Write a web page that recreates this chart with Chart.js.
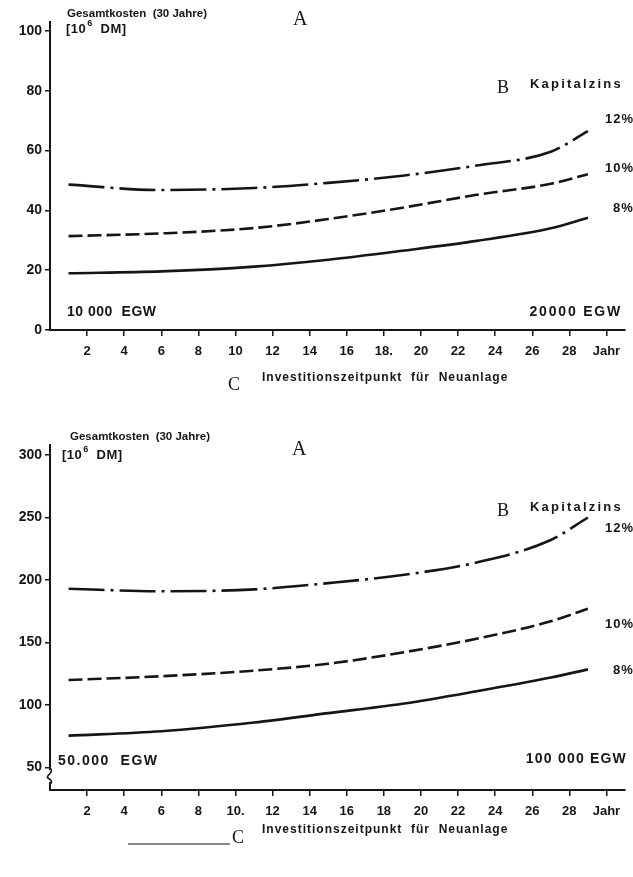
<!DOCTYPE html>
<html>
<head>
<meta charset="utf-8">
<script src="https://cdn.jsdelivr.net/npm/chart.js@4.4.1/dist/chart.umd.min.js"></script>
<style>
  body { margin: 0; background: #fff; width: 633px; height: 877px; overflow: hidden; position: relative; }
  canvas { position: absolute; left: 0; }
</style>
</head>
<body>
<canvas id="topChart" width="633" height="410" style="top:0"></canvas>
<canvas id="bottomChart" width="633" height="467" style="top:410px"></canvas>
<script>
// investment year (x) for every curve point
var years = [1, 6, 11, 15, 19, 23, 27, 29];

// 10 000 - 20 000 EGW, costs in 10^6 DM
var top12 = [48.6, 46.8, 47.5, 49.2, 51.6, 55, 59.6, 66.5];
var top10 = [31.4, 32.3, 34.1, 37.1, 40.9, 45.2, 48.9, 52.1];
var top8 = [19, 19.6, 21.2, 23.5, 26.5, 29.8, 34, 37.5];

// 50 000 - 100 000 EGW
var bot12 = [193, 191, 192.5, 197.5, 204, 214, 232, 250];
var bot10 = [120, 123, 127.5, 133, 142, 153, 167, 177];
var bot8 = [75.5, 79, 86, 93.5, 101, 111, 122, 128.5];

var xTicks = [2, 4, 6, 8, 10, 12, 14, 16, 18, 20, 22, 24, 26, 28, 30];
var xLabels = ["2", "4", "6", "8", "10", "12", "14", "16", "18.", "20", "22", "24", "26", "28", "Jahr"];
var xLabelsBottom = ["2", "4", "6", "8", "10.", "12", "14", "16", "18", "20", "22", "24", "26", "28", "Jahr"];
var topYTicks = [0, 20, 40, 60, 80, 100];
var botYTicks = [50, 100, 150, 200, 250, 300];
var rateLabels = ["12%", "10%", "8%"];

var ink = "#151515";
var sans = "'Liberation Sans', Arial, sans-serif";
var serif = "'Liberation Serif', 'DejaVu Serif', serif";
var bold = "bold 12px " + sans;
var big = "bold 13px " + sans;

function series(ys) {
  return years.map(function (x, i) { return { x: x, y: ys[i] }; });
}

function makeSets(a, b, c) {
  var base = { borderColor: ink, borderWidth: 2.6, pointRadius: 0, fill: false, cubicInterpolationMode: "monotone" };
  return [
    Object.assign({ label: rateLabels[0], data: series(a), borderDash: [36, 6, 3, 6] }, base),
    Object.assign({ label: rateLabels[1], data: series(b), borderDash: [14, 5] }, base),
    Object.assign({ label: rateLabels[2], data: series(c) }, base)
  ];
}

function drawUnit(ctx, x, y) {
  ctx.font = big;
  ctx.textAlign = "left";
  ctx.fillText("[10", x, y);
  var w = ctx.measureText("[10").width;
  ctx.font = "bold 9px " + sans;
  ctx.fillText("6", x + w + 1, y - 5);
  ctx.font = big;
  ctx.fillText("  DM]", x + w + 6, y);
}

var notesPlugin = {
  id: "notes",
  afterDraw: function (chart) {
    var ctx = chart.ctx;
    var cfg = chart.options.plugins.notes;
    ctx.save();
    ctx.fillStyle = ink;
    ctx.textBaseline = "middle";
    cfg.items.forEach(function (n) {
      ctx.letterSpacing = (n.sp || 0) + "px";
      if (n.unit) { drawUnit(ctx, n.x, n.y); return; }
      ctx.font = n.font || bold;
      ctx.textAlign = n.align || "left";
      ctx.fillText(n.text, n.x, n.y);
    });
    ctx.letterSpacing = "0px";
    if (cfg.stroke) {
      ctx.strokeStyle = ink;
      ctx.lineWidth = 1.2;
      ctx.beginPath();
      ctx.moveTo(cfg.stroke[0], cfg.stroke[1]);
      ctx.lineTo(cfg.stroke[2], cfg.stroke[3]);
      ctx.stroke();
    }
    if (cfg.axisBreak) {
      var l = chart.chartArea.left;
      var b = chart.chartArea.bottom;
      ctx.fillStyle = "#fff";
      ctx.fillRect(l - 3, b - 20, 6, 12);
      ctx.strokeStyle = ink;
      ctx.lineWidth = 1.6;
      ctx.beginPath();
      ctx.moveTo(l, b - 22);
      ctx.bezierCurveTo(l + 5, b - 18, l - 5, b - 14, l - 2, b - 12);
      ctx.bezierCurveTo(l + 1, b - 10, l + 3, b - 8, l, b - 6);
      ctx.stroke();
    }
    ctx.restore();
  }
};

function makeOptions(yMin, yMax, yTicks, labels, pad, notes) {
  return {
    responsive: false,
    animation: false,
    layout: { padding: pad },
    plugins: {
      legend: { display: false },
      tooltip: { enabled: false },
      notes: notes
    },
    scales: {
      x: {
        type: "linear",
        min: 0,
        max: 31,
        border: { display: true, color: ink, width: 2 },
        grid: { drawOnChartArea: false, drawTicks: true, tickLength: 6, color: ink, lineWidth: 1.5 },
        ticks: {
          color: ink,
          font: { family: sans, size: 13, weight: "bold" },
          padding: 8,
          autoSkip: false,
          maxRotation: 0,
          callback: function (v) { return labels[xTicks.indexOf(v)]; }
        },
        afterBuildTicks: function (s) { s.ticks = xTicks.map(function (v) { return { value: v }; }); },
        afterFit: function (s) { s.height = 35; }
      },
      y: {
        type: "linear",
        min: yMin,
        max: yMax,
        border: { display: true, color: ink, width: 2 },
        grid: { drawOnChartArea: false, drawTicks: true, tickLength: 5, color: ink, lineWidth: 1.5 },
        ticks: {
          color: ink,
          font: { family: sans, size: 14, weight: "bold" },
          padding: 3
        },
        afterBuildTicks: function (s) { s.ticks = yTicks.map(function (v) { return { value: v }; }); },
        afterFit: function (s) { s.width = 50; }
      }
    }
  };
}

var topNotes = {
  items: [
    { text: "Gesamtkosten  (30 Jahre)", x: 67, y: 14, font: "bold 11.5px " + sans },
    { unit: true, x: 66, y: 29, sp: 0.5 },
    { text: "A", x: 293, y: 20, font: "20px " + serif },
    { text: "B", x: 497, y: 88, font: "18px " + serif },
    { text: "Kapitalzins", x: 530, y: 84, sp: 2.2, font: big },
    { text: rateLabels[0], x: 605, y: 119, font: big, sp: 1 },
    { text: rateLabels[1], x: 605, y: 168, font: big, sp: 1 },
    { text: rateLabels[2], x: 613, y: 208, font: big, sp: 1 },
    { text: "10 000  EGW", x: 67, y: 312, font: "bold 14px " + sans, sp: 0.5 },
    { text: "20000 EGW", x: 622, y: 312, align: "right", font: "bold 14px " + sans, sp: 1.8 },
    { text: "C", x: 228, y: 385, font: "18px " + serif },
    { text: "Investitionszeitpunkt  für  Neuanlage", x: 262, y: 378, font: bold, sp: 1 }
  ]
};

var bottomNotes = {
  items: [
    { text: "Gesamtkosten  (30 Jahre)", x: 70, y: 27, font: "bold 11.5px " + sans },
    { unit: true, x: 62, y: 45, sp: 0.5 },
    { text: "A", x: 292, y: 40, font: "20px " + serif },
    { text: "B", x: 497, y: 101, font: "18px " + serif },
    { text: "Kapitalzins", x: 530, y: 97, sp: 2.2, font: big },
    { text: rateLabels[0], x: 605, y: 118, font: big, sp: 1 },
    { text: rateLabels[1], x: 605, y: 214, font: big, sp: 1 },
    { text: rateLabels[2], x: 613, y: 260, font: big, sp: 1 },
    { text: "50.000  EGW", x: 58, y: 351, font: "bold 14px " + sans, sp: 1.5 },
    { text: "100 000 EGW", x: 627, y: 349, align: "right", font: "bold 14px " + sans, sp: 1.2 },
    { text: "C", x: 232, y: 428, font: "18px " + serif },
    { text: "Investitionszeitpunkt  für  Neuanlage", x: 262, y: 420, font: bold, sp: 1 }
  ],
  stroke: [128, 434, 230, 434],
  axisBreak: true
};

new Chart(document.getElementById("topChart"), {
  type: "line",
  data: { datasets: makeSets(top12, top10, top8) },
  options: makeOptions(0, 103, topYTicks, xLabels, { top: 22, right: 8, bottom: 45, left: 0 }, topNotes),
  plugins: [notesPlugin]
});

new Chart(document.getElementById("bottomChart"), {
  type: "line",
  data: { datasets: makeSets(bot12, bot10, bot8) },
  options: makeOptions(32, 308, botYTicks, xLabelsBottom, { top: 35, right: 8, bottom: 52, left: 0 }, bottomNotes),
  plugins: [notesPlugin]
});
</script>
</body>
</html>
